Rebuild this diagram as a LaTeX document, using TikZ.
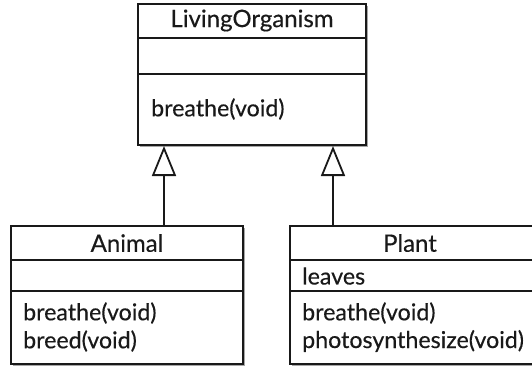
\documentclass[tikz,border=0pt]{standalone}
\usepackage{fontspec}
\setmainfont{Lato}[FakeBold=0.35]
\usetikzlibrary{arrows.meta,shadows}
\begin{document}
\begin{tikzpicture}[x=1pt,y=1pt,
  box/.style={draw=black!90, line width=2pt, fill=white, rectangle, inner sep=0pt,
    anchor=north west,
    drop shadow={shadow xshift=2pt, shadow yshift=-2pt, opacity=0.35, fill=black}},
  rule/.style={draw=black!90, line width=2pt},
  title/.style={inner sep=0pt, text=black!90, font=\fontsize{24}{28}\selectfont},
  member/.style={inner sep=0pt, anchor=west, text=black!90, font=\fontsize{23.2}{27}\selectfont},
  inherit/.style={draw=black!90, line width=2.2pt,
    -{Triangle[open, length=30pt, width=24pt, line width=1.8pt, fill=white]}},
]
\useasboundingbox (0,0) rectangle (532,-368);
\clip (0,0) rectangle (532,-368);

% LivingOrganism class
\node[box, minimum width=228pt, minimum height=141pt] (lo) at (137,-3) {};
\draw[rule] ([yshift=-35pt]lo.north west) -- ([yshift=-35pt]lo.north east);
\draw[rule] ([yshift=-71pt]lo.north west) -- ([yshift=-71pt]lo.north east);
\node[title] (lo-name) at ([yshift=-17.5pt]lo.north) {LivingOrganism};
\node[member] (lo-op1) at ([xshift=14pt,yshift=-106pt]lo.north west) {breathe(void)};

% Animal class
\node[box, minimum width=232pt, minimum height=138pt] (animal) at (10,-225) {};
\draw[rule] ([yshift=-35pt]animal.north west) -- ([yshift=-35pt]animal.north east);
\draw[rule] ([yshift=-66pt]animal.north west) -- ([yshift=-66pt]animal.north east);
\node[title] (animal-name) at ([yshift=-18pt]animal.north) {Animal};
\node[member] (animal-op1) at ([xshift=13pt,yshift=-88pt]animal.north west) {breathe(void)};
\node[member] (animal-op2) at ([xshift=13pt,yshift=-116pt]animal.north west) {breed(void)};

% Plant class
\node[box, minimum width=262pt, minimum height=138pt] (plant) at (289,-225) {};
\draw[rule] ([yshift=-35pt]plant.north west) -- ([yshift=-35pt]plant.north east);
\draw[rule] ([yshift=-66pt]plant.north west) -- ([yshift=-66pt]plant.north east);
\node[title] (plant-name) at ([yshift=-18pt]plant.north west) [xshift=121pt] {Plant};
\node[member] (plant-attr) at ([xshift=13pt,yshift=-51pt]plant.north west) {leaves};
\node[member] (plant-op1) at ([xshift=13pt,yshift=-88pt]plant.north west) {breathe(void)};
\node[member] (plant-op2) at ([xshift=13pt,yshift=-116pt]plant.north west) {photosynthesize(void)};

% generalisation arrows
\draw[inherit] ([xshift=154pt]animal.north west) -- ([xshift=154pt]animal.north west |- lo.south);
\draw[inherit] ([xshift=44pt]plant.north west) -- ([xshift=44pt]plant.north west |- lo.south);
\end{tikzpicture}
\end{document}
